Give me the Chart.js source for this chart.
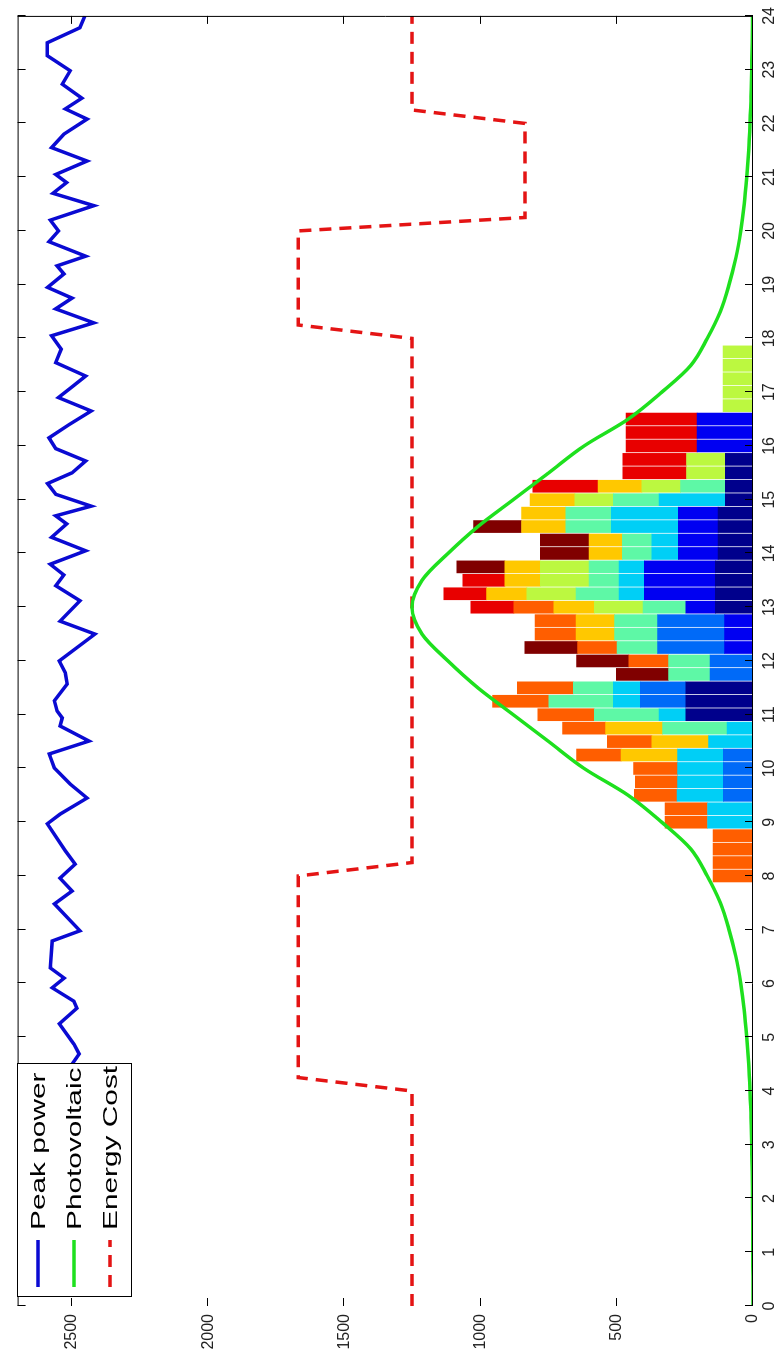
<!DOCTYPE html>
<html>
<head>
<meta charset="utf-8">
<script src="https://cdn.jsdelivr.net/npm/chart.js@4.4.1/dist/chart.umd.min.js"></script>
<style>
  html, body { margin: 0; padding: 0; background: #fff; overflow: hidden; }
  /* the plot is laid out landscape and turned a quarter turn so time runs upward */
  #wrap {
    position: absolute; left: 0; top: 0;
    width: 1358px; height: 774px;
    transform-origin: 0 0;
    transform: translateY(1358px) rotate(-90deg);
  }
</style>
</head>
<body>
<div id="wrap"><canvas id="c" width="1358" height="774"></canvas></div>
<script>
// ---- axes ----
const hourTicks = [0,1,2,3,4,5,6,7,8,9,10,11,12,13,14,15,16,17,18,19,20,21,22,23,24];
const powerTicks = [0,500,1000,1500,2000,2500];

// ---- quarter-hour slots carrying scheduled loads ----
const slotHours = [8,8.25,8.5,8.75,9,9.25,9.5,9.75,10,10.25,10.5,10.75,11,11.25,11.5,11.75,
  12,12.25,12.5,12.75,13,13.25,13.5,13.75,14,14.25,14.5,14.75,15,15.25,15.5,15.75,
  16,16.25,16.5,16.75,17,17.25,17.5,17.75];

// one array per appliance, stacked bottom to top
const loadNavy     = [0,0,0,0,0,0,0,0,0,0,0,0,247,247,247,0,0,0,0,0,138,138,138,138,128,128,128,128,102,102,102,102,0,0,0,0,0,0,0,0];
const loadBlue     = [0,0,0,0,0,0,0,0,0,0,0,0,0,0,0,0,0,104,104,104,109,261,261,261,146,146,146,146,0,0,0,0,205,205,205,0,0,0,0,0];
const loadAzure    = [0,0,0,0,0,0,109,109,109,109,0,0,0,167,167,158,158,246,246,246,0,0,0,0,0,0,0,0,0,0,0,0,0,0,0,0,0,0,0,0];
const loadCyan     = [0,0,0,0,167,167,170,168,168,168,163,95,98,99,99,0,0,0,0,0,0,93,93,93,97,97,246,246,243,0,0,0,0,0,0,0,0,0,0,0];
const loadMint     = [0,0,0,0,0,0,0,0,0,0,0,237,238,237,147,152,152,149,158,158,157,158,110,110,109,109,167,167,168,164,0,0,0,0,0,0,0,0,0,0];
const loadLime     = [0,0,0,0,0,0,0,0,0,0,0,0,0,0,0,0,0,0,0,0,179,180,179,179,0,0,0,0,141,142,142,142,0,0,0,110,110,110,110,110];
const loadGold     = [0,0,0,0,0,0,0,0,0,207,208,209,0,0,0,0,0,0,142,142,148,148,130,130,122,122,163,163,164,161,0,0,0,0,0,0,0,0,0,0];
const loadOrange   = [147,147,147,147,156,156,157,155,161,164,164,158,207,206,205,0,146,145,150,150,147,0,0,0,0,0,0,0,0,0,0,0,0,0,0,0,0,0,0,0];
const loadRed      = [0,0,0,0,0,0,0,0,0,0,0,0,0,0,0,0,0,0,0,0,158,157,154,0,0,0,0,0,0,239,234,234,261,261,261,0,0,0,0,0];
const loadMaroon   = [0,0,0,0,0,0,0,0,0,0,0,0,0,0,0,192,192,194,0,0,0,0,0,176,179,179,176,0,0,0,0,0,0,0,0,0,0,0,0,0];

// ---- peak power limit ----
const peakHours = [0.25,0.6,1.0,1.4,1.8,2.2,2.6,3.0,3.4,3.8,4.2,4.5,4.69,4.87,5.25,5.54,5.67,5.92,6.10,6.29,6.79,6.98,
  7.48,7.72,7.96,8.22,8.47,8.97,9.15,9.45,9.71,10.01,10.27,10.51,10.79,10.94,11.07,11.26,11.57,11.78,12.0,12.5,12.74,13.12,
  13.4,13.6,13.8,14.05,14.3,14.55,14.7,14.88,15.1,15.3,15.5,15.72,15.95,16.15,16.4,16.65,16.9,17.1,17.3,17.55,17.8,18.05,
  18.29,18.55,18.75,18.95,19.2,19.35,19.53,19.8,20.0,20.2,20.47,20.7,20.9,21.05,21.3,21.55,21.8,
  22.08,22.27,22.47,22.73,22.98,23.26,23.5,23.78,24.0];
const peakPower = [2510,2480,2540,2495,2560,2500,2470,2530,2550,2490,2520,2500,2474,2493,2547,2482,2493,2573,2529,2580,2573,2471,
  2565,2500,2544,2489,2525,2591,2544,2445,2507,2565,2584,2438,2544,2536,2555,2565,2518,2525,2547,2416,2544,2471,
  2560,2530,2580,2450,2575,2520,2560,2430,2560,2590,2500,2450,2560,2585,2510,2430,2550,2500,2450,2560,2540,2575,
  2420,2560,2500,2590,2530,2555,2450,2585,2550,2580,2420,2570,2520,2560,2445,2575,2530,
  2445,2525,2464,2536,2507,2591,2591,2471,2453];

// ---- photovoltaic production ----
const pvHours = [0,0.5,1,1.5,2,2.5,3,3.5,4,4.5,5,5.5,6,6.5,7,7.5,8,8.5,9,9.5,10,10.5,11,11.5,12,12.5,13,
  13.5,14,14.5,15,15.5,16,16.5,17,17.5,18,18.5,19,19.5,20,20.5,21,21.5,22,22.5,23,23.5,24];
const pvPower = [0,0,1,1,2,3,5,7,11,16,23,32,45,63,88,120,168,228,335,458,620,750,880,1010,1120,1215,1252,
  1215,1120,1010,880,750,620,458,335,228,168,120,88,63,45,32,23,16,11,7,5,3,2];

// ---- energy tariff, scaled onto the power axis ----
const costHours = [0,4,4.25,8,8.25,18,18.25,20,20.25,22,22.25,24];
const costLevel = [1252,1252,1670,1670,1252,1252,1670,1670,837,837,1252,1252];

const loadSeries = [
  ['navy', loadNavy, '#00008c'],
  ['blue', loadBlue, '#0000f2'],
  ['azure', loadAzure, '#006af8'],
  ['cyan', loadCyan, '#00cff6'],
  ['mint', loadMint, '#5ef8a6'],
  ['lime', loadLime, '#bcf840'],
  ['gold', loadGold, '#ffc800'],
  ['orange', loadOrange, '#ff5e00'],
  ['red', loadRed, '#e80000'],
  ['maroon', loadMaroon, '#800000']
];

const pts = (xs, ys) => xs.map((x, i) => ({ x: x, y: ys[i] }));

const datasets = [
  { type: 'line', label: 'Peak power', stack: 'peak', data: pts(peakHours, peakPower),
    borderColor: '#0a0ad2', borderWidth: 3.5, pointRadius: 0, tension: 0 },
  { type: 'line', label: 'Photovoltaic', stack: 'pv', data: pts(pvHours, pvPower),
    borderColor: '#1ee01e', borderWidth: 3.5, pointRadius: 0, cubicInterpolationMode: 'monotone' },
  { type: 'line', label: 'Energy Cost', stack: 'cost', data: pts(costHours, costLevel),
    borderColor: '#e41414', borderWidth: 3.5, borderDash: [12, 8], pointRadius: 0, tension: 0 }
];
loadSeries.forEach(([name, vals, color]) => {
  datasets.push({
    type: 'bar', label: name, stack: 'loads',
    data: slotHours.map((h, i) => ({ x: h, y: vals[i] > 0 ? vals[i] : null })),
    backgroundColor: color, borderWidth: 0, barThickness: 12
  });
});

// box, inward ticks (MATLAB style)
const frame = {
  id: 'frame',
  afterDatasetsDraw(chart) {
    const { ctx, chartArea: a, scales: { x, y } } = chart;
    ctx.save();
    ctx.strokeStyle = '#000';
    ctx.lineWidth = 1;
    ctx.beginPath();
    ctx.moveTo(a.left, a.top + 0.5); ctx.lineTo(a.right, a.top + 0.5);
    ctx.moveTo(a.right - 0.5, a.top); ctx.lineTo(a.right - 0.5, a.bottom);
    ctx.moveTo(a.left, a.bottom - 0.5); ctx.lineTo(a.right, a.bottom - 0.5);
    x.ticks.forEach(t => {
      const px = Math.round(x.getPixelForValue(t.value)) + 0.5;
      ctx.moveTo(px, a.top); ctx.lineTo(px, a.top + 8);
      ctx.moveTo(px, a.bottom); ctx.lineTo(px, a.bottom - 8);
    });
    y.ticks.forEach(t => {
      const py = Math.round(y.getPixelForValue(t.value)) - 0.5;
      ctx.moveTo(a.left, py); ctx.lineTo(a.left + 8, py);
      ctx.moveTo(a.right, py); ctx.lineTo(a.right - 8, py);
    });
    ctx.stroke();
    ctx.restore();
  }
};

// boxed key in the upper-left corner of the plot
const keyBox = {
  id: 'keyBox',
  afterDraw(chart) {
    const ctx = chart.ctx;
    const bx = 61, by = 17, bw = 234, bh = 115;
    ctx.save();
    ctx.fillStyle = '#fff';
    ctx.fillRect(bx, by, bw, bh);
    ctx.strokeStyle = '#000';
    ctx.lineWidth = 1;
    ctx.strokeRect(bx + 0.5, by + 0.5, bw - 1, bh - 1);
    chart.data.datasets.filter(d => d.type === 'line').forEach((d, i) => {
      const cy = 38 + i * 36;
      ctx.strokeStyle = d.borderColor;
      ctx.lineWidth = d.borderWidth;
      ctx.setLineDash(d.borderDash || []);
      ctx.beginPath(); ctx.moveTo(71, cy); ctx.lineTo(118, cy); ctx.stroke();
      ctx.setLineDash([]);
      ctx.fillStyle = '#000';
      ctx.textBaseline = 'middle';
      ctx.textAlign = 'left';
      ctx.font = '21px "Liberation Sans", Arial, sans-serif';
      ctx.save();
      ctx.translate(128, cy + 1);
      ctx.scale(1.42, 1);
      ctx.fillText(d.label, 0, 0);
      ctx.restore();
    });
    ctx.restore();
  }
};

new Chart(document.getElementById('c'), {
  type: 'bar',
  data: { datasets },
  options: {
    responsive: false,
    animation: false,
    events: [],
    layout: { padding: { left: 0, right: 15, top: 9, bottom: 0 } },
    plugins: { legend: { display: false }, tooltip: { enabled: false } },
    scales: {
      x: {
        type: 'linear', min: 0, max: 24, offset: false, stacked: true,
        grid: { display: false, drawTicks: false, offset: false },
        border: { display: false },
        afterBuildTicks: s => { s.ticks = hourTicks.map(v => ({ value: v })); },
        afterFit: s => { s.height = 21; },
        ticks: { padding: 7, maxRotation: 0, autoSkip: false, color: '#222',
          font: { family: '"Liberation Sans", Arial, sans-serif', size: 16 },
          callback: v => String(v) }
      },
      y: {
        type: 'linear', min: 0, max: 2700, stacked: true,
        grid: { display: false, drawTicks: false },
        border: { display: false },
        afterBuildTicks: s => { s.ticks = powerTicks.map(v => ({ value: v })); },
        afterFit: s => { s.width = 52; },
        ticks: { padding: 8, color: '#222', includeBounds: false,
          font: { family: '"Liberation Sans", Arial, sans-serif', size: 16 },
          callback: v => String(v) }
      }
    }
  },
  plugins: [frame, keyBox]
});
</script>
</body>
</html>
